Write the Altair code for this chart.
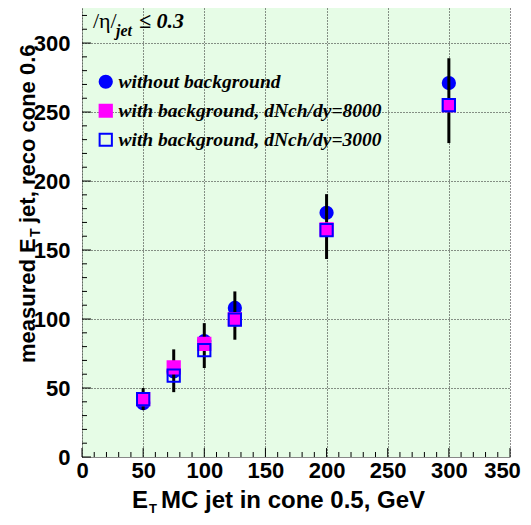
import altair as alt
import pandas as pd

# ---- data ----
et_mc = [50, 75, 100, 125, 200, 300]
et_no_bg = [39, 62, 84, 108, 177, 271]
et_bg8000 = [42, 65, 82, 100, 165, 255]
et_bg3000 = [42, 59, 77.5, 99.5, 164.5, 255]
err_low = [34, 47, 64.5, 85, 143.5, 227.5]
err_high = [50, 78, 97, 120, 190.5, 289]

series_names = ["without background",
                "with background, dNch/dy=8000",
                "with background, dNch/dy=3000"]
series_shapes = ["circle", "square", "square"]
series_fills = ["#0000ff", "#ff00ff", "transparent"]
series_strokes = ["#0000ff", "#ff00ff", "#0000ff"]

x_major = [0, 50, 100, 150, 200, 250, 300, 350]
x_minor = [10, 20, 30, 40, 60, 70, 80, 90, 110, 120, 130, 140, 160, 170, 180, 190,
           210, 220, 230, 240, 260, 270, 280, 290, 310, 320, 330, 340]
y_major = [0, 50, 100, 150, 200, 250, 300]
y_minor = [10, 20, 30, 40, 60, 70, 80, 90, 110, 120, 130, 140, 160, 170, 180, 190,
           210, 220, 230, 240, 260, 270, 280, 290, 310, 320]

W, H = 428, 449

circ_df = pd.DataFrame({"x": et_mc, "y": et_no_bg, "series": series_names[0]})
sq_df = pd.concat([
    pd.DataFrame({"x": et_mc, "y": et_bg8000, "series": series_names[1]}),
    pd.DataFrame({"x": et_mc, "y": et_bg3000, "series": series_names[2]}),
])
err_df = pd.DataFrame({"x": et_mc, "lo": err_low, "hi": err_high})

xscale = alt.Scale(domain=[0, 350], nice=False, zero=False)
yscale = alt.Scale(domain=[0, 325.4], nice=False, zero=False)

xaxis = alt.Axis(values=x_major, title=None, grid=True, ticks=False,
                 gridColor="#222", gridDash=[1, 2], gridWidth=1,
                 domainColor="#888", domainWidth=1,
                 labelFont="Liberation Sans", labelFontWeight="bold", labelFontSize=22,
                 labelColor="black", labelPadding=3, labelBaseline="top",
                 labelOffset={"condition": {"test": "datum.value == 350", "value": -8}, "value": 0},
                 labelFlush=False, labelOverlap=False)
yaxis = alt.Axis(values=y_major, title=None, grid=True, ticks=False,
                 gridColor="#222", gridDash=[1, 2], gridWidth=1,
                 domainColor="#444", domainDash=[1, 2], domainWidth=1,
                 labelFont="Liberation Sans", labelFontWeight="bold", labelFontSize=22,
                 labelColor="black", labelPadding=12,
                 labelFlush=False, labelOverlap=False)

legend = alt.Legend(title=None, orient="none", legendX=14, legendY=64,
                    labelFont="Liberation Serif", labelFontSize=19.5,
                    labelFontStyle="italic", labelFontWeight="bold",
                    labelColor="black", labelLimit=500, labelOffset=3,
                    symbolSize=150, symbolStrokeWidth=2, rowPadding=8, padding=0)

def enc_series(df):
    return alt.Chart(df).mark_point(size=150, strokeWidth=2, opacity=1).encode(
        x=alt.X("x:Q", scale=xscale, axis=xaxis),
        y=alt.Y("y:Q", scale=yscale, axis=yaxis),
        shape=alt.Shape("series:N", scale=alt.Scale(domain=series_names, range=series_shapes), legend=legend),
        fill=alt.Fill("series:N", scale=alt.Scale(domain=series_names, range=series_fills), legend=legend),
        stroke=alt.Stroke("series:N", scale=alt.Scale(domain=series_names, range=series_strokes), legend=legend),
    )

circles = enc_series(circ_df)
squares = enc_series(sq_df)

errs = alt.Chart(err_df).mark_rule(color="black", strokeWidth=3).encode(
    x=alt.X("x:Q", scale=xscale, axis=xaxis),
    y=alt.Y("lo:Q", scale=yscale, axis=yaxis),
    y2="hi:Q",
)

def yticks(vals, length):
    return alt.Chart(pd.DataFrame({"v": vals})).mark_rule(color="black", strokeWidth=1).encode(
        y=alt.Y("v:Q", scale=yscale, axis=yaxis), x=alt.value(0), x2=alt.value(length))

def xticks(vals, length):
    return alt.Chart(pd.DataFrame({"v": vals})).mark_rule(color="black", strokeWidth=1).encode(
        x=alt.X("v:Q", scale=xscale, axis=xaxis), y=alt.value(H), y2=alt.value(H - length))

def label(text, x, y, size, font="Liberation Sans", weight="bold", style="normal", angle=0):
    return alt.Chart(pd.DataFrame({"t": [text]})).mark_text(
        align="left", baseline="alphabetic", font=font, fontSize=size,
        fontWeight=weight, fontStyle=style, angle=angle, color="black"
    ).encode(x=alt.value(x), y=alt.value(y), text="t:N")

layers = [
    yticks(y_minor, 5), yticks(y_major, 9),
    xticks(x_minor, 5), xticks(x_major, 9),
    circles, errs, squares,
    # header
    label("/η/", 11, 20, 22, font="Liberation Serif", weight="normal"),
    label("jet", 34, 28, 16, font="Liberation Serif", style="italic"),
    label("≤ 0.3", 57, 20, 22, font="Liberation Serif", style="italic"),
    # x title
    label("E", 50, 500, 24),
    label("T", 67, 505, 13),
    label("MC jet in cone 0.5, GeV", 79, 500, 24),
    # y title
    label("measured E", -47, 355, 22, angle=270),
    label("T", -42, 229, 14, angle=270),
    label("jet, reco cone 0.6", -47, 215, 22, angle=270),
]

chart = alt.layer(*layers).properties(
    width=W, height=H,
    autosize=alt.AutoSizeParams(type="none"),
    padding={"left": 74, "top": 0, "right": 13, "bottom": 60},
).configure_view(fill="#e6fce6", stroke=None)

chart.save("out.html", embed_options={"renderer": "svg", "actions": False})
